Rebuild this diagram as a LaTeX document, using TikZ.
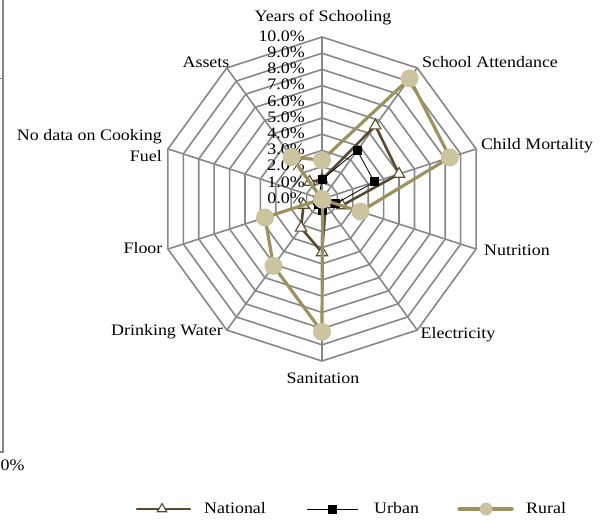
\documentclass[tikz,border=0pt]{standalone}
\usepackage{fontspec}
\setmainfont[FakeStretch=1.12]{Liberation Serif}
\usetikzlibrary{shapes.geometric}
\definecolor{gridc}{HTML}{878787}
\definecolor{natc}{HTML}{574A2E}
\definecolor{rurl}{HTML}{9C915F}
\definecolor{rurf}{HTML}{CCC49E}
\tikzset{
  gridline/.style={draw=gridc, line width=1.6pt},
  natline/.style={draw=natc, line width=2.6pt, line join=round},
  urbline/.style={draw=black, line width=0.8pt, line join=round},
  rurline/.style={draw=rurl, line width=3.2pt, line join=round},
  natmark/.style={regular polygon, regular polygon sides=3, draw=natc, fill=white, line width=1.1pt, minimum size=13pt, inner sep=0pt},
  urbmark/.style={rectangle, fill=black, minimum size=9pt, inner sep=0pt},
  rurmark/.style={circle, fill=rurf, minimum size=18pt, inner sep=0pt},
  axlabel/.style={inner sep=0pt, text=black},
  ticklabel/.style={anchor=east, inner sep=0pt, text=black},
}
\newcommand{\CX}{322}
\newcommand{\CY}{199}
\newcommand{\RS}{16.2}
\begin{document}
\begin{tikzpicture}[x=1pt,y=-1pt, font=\fontsize{16}{18}\selectfont]
\useasboundingbox (0,0) rectangle (601,520);
% left remnant of neighbouring chart
\draw[gridc, line width=1.4pt] (3,0) -- (3,452) -- (0,452);
\draw[gridc, line width=1pt] (0,78) -- (3,78);
\node[anchor=west, inner sep=0pt] (zp) at (0.5,465) {0\%};
% grid rings
\foreach \r in {1,...,10}{
  \draw[gridline] ({\CX},{\CY-\RS*\r})
    \foreach \k in {1,...,9}{ -- ({\CX+\RS*\r*sin(36*\k)},{\CY-\RS*\r*cos(36*\k)}) } -- cycle;
}
% spokes
\coordinate (C) at (\CX,\CY);
\foreach \k in {0,...,9}{
  \coordinate (V\k) at ({\CX+\RS*10*sin(36*\k)},{\CY-\RS*10*cos(36*\k)});
  \draw[gridline] (C) -- (V\k);
}
% tick labels
\foreach \i in {0,...,10}{
  \node[ticklabel] (t\i) at (305,{\CY-\RS*\i-1}) {\i.0\%};
}
% axis labels
\node[axlabel] (a0) at (323,18) {Years of Schooling};
\node[axlabel] (a1) at (490,62) {School Attendance};
\node[axlabel] (a2) at (537,146) {Child Mortality};
\node[axlabel] (a3) at (517,250) {Nutrition};
\node[axlabel] (a4) at (458,335) {Electricity};
\node[axlabel] (a5) at (323,378) {Sanitation};
\node[axlabel] (a6) at (167,332) {Drinking Water};
\node[axlabel] (a7) at (143,248) {Floor};
\node[axlabel, anchor=east, align=right, font=\fontsize{16}{21}\selectfont] (a8) at (162,146) {No data on Cooking\\Fuel};
\node[axlabel] (a9) at (206,62) {Assets};
% data coordinates
\foreach \v [count=\k from 0] in {1.2,5.6,5.0,1.3,0.4,3.3,2.2,1.2,0,1.3}{
  \coordinate (N\k) at ({\CX+\RS*\v*sin(36*\k)},{\CY-\RS*\v*cos(36*\k)});
}
\foreach \v [count=\k from 0] in {1.2,3.7,3.4,0.9,0.2,0.7,0.4,0.3,0,0.3}{
  \coordinate (U\k) at ({\CX+\RS*\v*sin(36*\k)},{\CY-\RS*\v*cos(36*\k)});
}
\foreach \v [count=\k from 0] in {2.4,9.2,8.3,2.5,0.05,8.2,5.1,3.7,0,3.2}{
  \coordinate (R\k) at ({\CX+\RS*\v*sin(36*\k)},{\CY-\RS*\v*cos(36*\k)});
}
% National
\draw[natline] (N0) -- (N1) -- (N2) -- (N3) -- (N4) -- (N5) -- (N6) -- (N7) -- (N8) -- (N9) -- cycle;
\foreach \k in {0,...,9}{ \node[natmark] (nm\k) at (N\k) {}; }
% Urban
\draw[urbline] (U0) -- (U1) -- (U2) -- (U3) -- (U4) -- (U5) -- (U6) -- (U7) -- (U8) -- (U9) -- cycle;
\foreach \k in {0,...,9}{ \node[urbmark] (um\k) at (U\k) {}; }
% Rural
\draw[rurline] (R0) -- (R1) -- (R2) -- (R3) -- (R4) -- (R5) -- (R6) -- (R7) -- (R8) -- (R9) -- cycle;
\foreach \k in {0,...,9}{ \node[rurmark] (rm\k) at (R\k) {}; }
% legend
\coordinate (ln1) at (137,509); \coordinate (ln2) at (190,509);
\draw[natline, line cap=round] (ln1) -- (ln2);
\node[natmark, minimum size=11pt] (lnm) at (162,509) {};
\node[anchor=west, inner sep=0pt] (lnt) at (204,508) {National};
\coordinate (lu1) at (307,509); \coordinate (lu2) at (358,509);
\draw[urbline] (lu1) -- (lu2);
\node[urbmark] (lum) at (332,509) {};
\node[anchor=west, inner sep=0pt] (lut) at (374,508) {Urban};
\coordinate (lr1) at (459,509); \coordinate (lr2) at (512,509);
\draw[rurline, line cap=round] (lr1) -- (lr2);
\node[rurmark, minimum size=13pt] (lrm) at (486,509) {};
\node[anchor=west, inner sep=0pt] (lrt) at (526,508) {Rural};
\end{tikzpicture}
\end{document}
